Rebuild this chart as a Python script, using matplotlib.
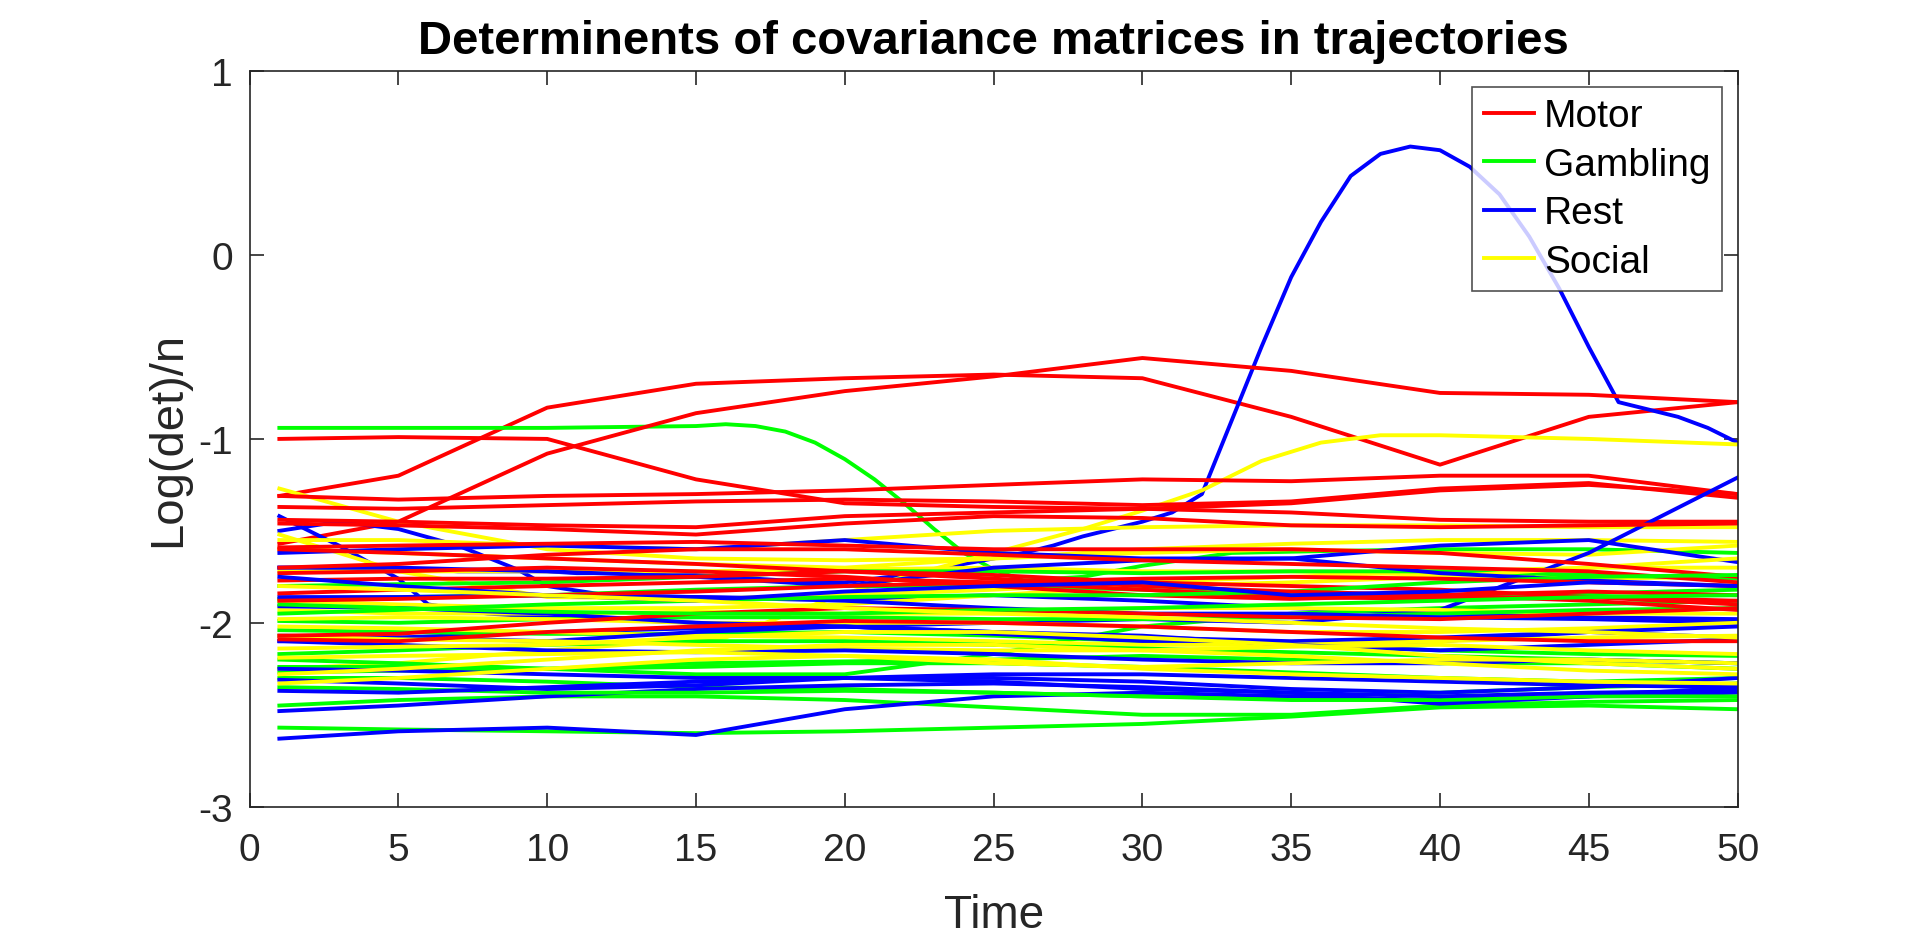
import numpy as np
import matplotlib
matplotlib.use("Agg")
import matplotlib.pyplot as plt

# ---------------------------------------------------------------------------
# data
# ---------------------------------------------------------------------------
time_grid = [1, 5, 10, 15, 20, 25, 30, 35, 40, 45, 50]

motor = [
    [-1.31, -1.20, -0.83, -0.70, -0.67, -0.65, -0.67, -0.88, -1.14, -0.88, -0.80],
    [-1.57, -1.45, -1.08, -0.86, -0.74, -0.66, -0.56, -0.63, -0.75, -0.76, -0.80],
    [-1.00, -0.99, -1.00, -1.22, -1.35, -1.37, -1.38, -1.35, -1.28, -1.25, -1.30],
    [-1.31, -1.33, -1.31, -1.30, -1.28, -1.25, -1.22, -1.23, -1.20, -1.20, -1.30],
    [-1.37, -1.38, -1.36, -1.34, -1.33, -1.34, -1.36, -1.34, -1.27, -1.24, -1.32],
    [-1.44, -1.45, -1.47, -1.48, -1.42, -1.40, -1.38, -1.40, -1.44, -1.45, -1.45],
    [-1.46, -1.47, -1.49, -1.52, -1.46, -1.42, -1.43, -1.47, -1.48, -1.47, -1.46],
    [-1.59, -1.58, -1.57, -1.56, -1.58, -1.60, -1.60, -1.60, -1.62, -1.68, -1.75],
    [-1.70, -1.68, -1.63, -1.60, -1.60, -1.63, -1.66, -1.68, -1.70, -1.72, -1.78],
    [-1.73, -1.72, -1.70, -1.72, -1.75, -1.80, -1.85, -1.87, -1.85, -1.83, -1.85],
    [-1.77, -1.76, -1.76, -1.75, -1.72, -1.74, -1.78, -1.80, -1.82, -1.86, -1.88],
    [-1.84, -1.82, -1.80, -1.78, -1.76, -1.78, -1.82, -1.86, -1.87, -1.86, -1.90],
    [-2.07, -2.06, -2.00, -1.95, -1.92, -1.93, -1.95, -1.97, -1.98, -1.95, -1.92],
    [-2.09, -2.10, -2.05, -2.02, -1.99, -2.00, -2.02, -2.05, -2.08, -2.10, -2.10],
    [-1.60, -1.62, -1.65, -1.68, -1.72, -1.76, -1.80, -1.83, -1.85, -1.88, -1.93],
    [-1.88, -1.87, -1.85, -1.83, -1.80, -1.78, -1.76, -1.75, -1.76, -1.78, -1.80],
]

gambling = [
    [-2.57, -2.58, -2.59, -2.60, -2.59, -2.57, -2.55, -2.51, -2.46, -2.45, -2.47],
    [-2.45, -2.42, -2.40, -2.40, -2.42, -2.46, -2.50, -2.50, -2.45, -2.43, -2.42],
    [-2.30, -2.30, -2.32, -2.35, -2.36, -2.38, -2.40, -2.40, -2.38, -2.35, -2.33],
    [-2.27, -2.26, -2.25, -2.24, -2.22, -2.22, -2.24, -2.27, -2.30, -2.32, -2.30],
    [-2.20, -2.22, -2.25, -2.28, -2.28, -2.17, -2.02, -1.95, -1.92, -1.90, -1.88],
    [-1.80, -1.79, -1.78, -1.75, -1.72, -1.72, -1.73, -1.72, -1.72, -1.74, -1.76],
    [-1.87, -1.86, -1.85, -1.82, -1.80, -1.80, -1.82, -1.85, -1.85, -1.84, -1.82],
    [-1.99, -2.00, -1.98, -1.97, -1.97, -1.98, -1.98, -1.97, -1.95, -1.93, -1.92],
    [-2.04, -2.05, -2.06, -2.06, -2.05, -2.07, -2.10, -2.12, -2.15, -2.17, -2.18],
    [-2.17, -2.15, -2.12, -2.10, -2.10, -2.12, -2.14, -2.16, -2.18, -2.20, -2.22],
    [-2.24, -2.24, -2.25, -2.22, -2.21, -2.20, -2.18, -2.20, -2.22, -2.22, -2.25],
    [-1.95, -1.93, -1.90, -1.88, -1.86, -1.85, -1.85, -1.83, -1.78, -1.75, -1.74],
    [-2.35, -2.36, -2.38, -2.38, -2.37, -2.38, -2.40, -2.42, -2.42, -2.40, -2.40],
    [-1.90, -1.92, -1.94, -1.95, -1.95, -1.93, -1.92, -1.90, -1.88, -1.86, -1.85],
]

rest = [
    [-2.63, -2.59, -2.57, -2.61, -2.47, -2.40, -2.38, -2.40, -2.42, -2.40, -2.38],
    [-2.48, -2.45, -2.40, -2.36, -2.34, -2.33, -2.35, -2.38, -2.44, -2.40, -2.35],
    [-2.10, -2.08, -2.05, -2.03, -2.02, -2.00, -1.98, -2.00, -1.93, -1.62, -1.21],
    [-1.62, -1.60, -1.58, -1.60, -1.55, -1.62, -1.65, -1.65, -1.58, -1.55, -1.67],
    [-1.70, -1.70, -1.72, -1.75, -1.80, -1.70, -1.66, -1.65, -1.73, -1.77, -1.80],
    [-1.86, -1.86, -1.85, -1.86, -1.88, -1.92, -1.95, -1.95, -1.97, -1.98, -2.00],
    [-1.91, -1.92, -1.95, -2.00, -2.02, -2.06, -2.10, -2.12, -2.10, -2.05, -2.02],
    [-2.07, -2.08, -2.10, -2.05, -2.02, -2.05, -2.07, -2.12, -2.15, -2.12, -2.09],
    [-2.10, -2.12, -2.15, -2.16, -2.15, -2.17, -2.20, -2.22, -2.22, -2.20, -2.22],
    [-2.25, -2.26, -2.28, -2.30, -2.30, -2.30, -2.32, -2.36, -2.38, -2.35, -2.30],
    [-2.31, -2.33, -2.36, -2.34, -2.30, -2.28, -2.28, -2.30, -2.32, -2.34, -2.35],
    [-2.37, -2.38, -2.35, -2.32, -2.30, -2.32, -2.36, -2.38, -2.40, -2.38, -2.37],
    [-1.75, -1.80, -1.85, -1.88, -1.83, -1.80, -1.78, -1.85, -1.83, -1.78, -1.80],
]

social = [
    [-1.27, -1.45, -1.60, -1.65, -1.66, -1.65, -1.62, -1.60, -1.62, -1.63, -1.58],
    [-1.52, -1.72, -1.86, -1.87, -1.85, -1.82, -1.78, -1.75, -1.72, -1.70, -1.70],
    [-1.55, -1.55, -1.58, -1.60, -1.55, -1.50, -1.48, -1.47, -1.47, -1.48, -1.48],
    [-1.60, -1.62, -1.65, -1.68, -1.70, -1.65, -1.60, -1.57, -1.55, -1.55, -1.56],
    [-1.72, -1.72, -1.72, -1.72, -1.71, -1.70, -1.72, -1.72, -1.74, -1.76, -1.75],
    [-1.88, -1.90, -1.92, -1.92, -1.90, -1.85, -1.80, -1.78, -1.75, -1.70, -1.65],
    [-1.93, -1.95, -1.95, -1.94, -1.95, -1.95, -1.92, -1.92, -1.93, -1.95, -1.95],
    [-1.98, -1.97, -1.98, -2.00, -2.00, -2.00, -2.02, -2.05, -2.05, -2.03, -2.00],
    [-2.02, -2.03, -2.05, -2.07, -2.08, -2.10, -2.12, -2.12, -2.10, -2.08, -2.07],
    [-2.07, -2.09, -2.10, -2.12, -2.14, -2.15, -2.15, -2.13, -2.12, -2.15, -2.17],
    [-2.14, -2.13, -2.12, -2.08, -2.05, -2.05, -2.08, -2.12, -2.18, -2.22, -2.25],
    [-2.19, -2.18, -2.17, -2.16, -2.18, -2.22, -2.24, -2.22, -2.20, -2.20, -2.22],
    [-2.28, -2.25, -2.20, -2.15, -2.12, -2.12, -2.15, -2.18, -2.22, -2.26, -2.28],
    [-2.33, -2.30, -2.25, -2.20, -2.18, -2.20, -2.25, -2.28, -2.30, -2.32, -2.33],
    [-1.80, -1.82, -1.85, -1.88, -1.92, -1.95, -1.97, -2.00, -2.03, -2.05, -2.08],
]

# a few trajectories that need more samples than the coarse grid
gambling_drop_t = [1, 5, 10, 15, 16, 17, 18, 19, 20, 21, 22, 23, 24, 25, 26, 28, 30, 33, 36, 40, 45, 50]
gambling_drop = [-0.94, -0.94, -0.94, -0.93, -0.92, -0.93, -0.96, -1.02, -1.11, -1.22, -1.35,
                 -1.49, -1.62, -1.71, -1.77, -1.75, -1.69, -1.62, -1.61, -1.60, -1.60, -1.62]

rest_spike_t = list(range(1, 51))
rest_spike = [-1.70, -1.70, -1.71, -1.71, -1.71, -1.71, -1.72, -1.72, -1.72, -1.72,
              -1.73, -1.73, -1.73, -1.74, -1.74, -1.75, -1.76, -1.77, -1.78, -1.78,
              -1.76, -1.74, -1.71, -1.68, -1.65, -1.62, -1.58, -1.53, -1.49, -1.45,
              -1.40, -1.30, -0.90, -0.50, -0.12, 0.18, 0.43, 0.55, 0.59, 0.57,
              0.48, 0.33, 0.10, -0.18, -0.50, -0.80, -0.84, -0.88, -0.94, -1.02]

rest_fall_t = [1, 3, 5, 6, 8, 10, 15, 20, 25, 30, 35, 40, 45, 50]
rest_fall = [-1.42, -1.58, -1.76, -1.90, -1.95, -1.97, -2.00, -2.02, -2.05, -2.08, -2.10, -2.08, -2.05, -2.08]

rest_bump_t = [1, 3, 5, 7, 9, 10, 12, 15, 20, 25, 30, 35, 40, 45, 50]
rest_bump = [-1.50, -1.45, -1.49, -1.58, -1.71, -1.80, -1.85, -1.86, -1.87, -1.85, -1.88, -1.92, -1.95, -1.97, -1.98]

social_rise_t = [1, 5, 10, 16, 20, 22, 25, 28, 30, 32, 34, 36, 38, 40, 45, 50]
social_rise = [-2.25, -2.22, -2.15, -2.08, -1.84, -1.75, -1.62, -1.49, -1.39, -1.28, -1.12,
               -1.02, -0.98, -0.98, -1.00, -1.03]

labels = ["Motor", "Gambling", "Rest", "Social"]
colors = ["#ff0000", "#00ff00", "#0000ff", "#ffff00"]

# ---------------------------------------------------------------------------
# plot
# ---------------------------------------------------------------------------
plt.rcParams["font.family"] = ["Liberation Sans", "DejaVu Sans"]
plt.rcParams["axes.unicode_minus"] = False

fig = plt.figure(figsize=(19.2, 9.37), dpi=100)
ax = fig.add_axes([0.13, 0.138, 0.775, 0.785])

groups = [
    (motor, [], []),
    (gambling, [gambling_drop_t], [gambling_drop]),
    (rest, [rest_spike_t, rest_fall_t, rest_bump_t], [rest_spike, rest_fall, rest_bump]),
    (social, [social_rise_t], [social_rise]),
]

# one trajectory of each task per subject, drawn interleaved like the original
n_max = max(len(g[0]) + len(g[1]) for g in groups)
lw = 2.8
handles = [None] * 4
for i in range(n_max):
    for k, (series, extra_t, extra_v) in enumerate(groups):
        if i < len(extra_t):
            t, v = extra_t[i], extra_v[i]
        elif i - len(extra_t) < len(series):
            t, v = time_grid, series[i - len(extra_t)]
        else:
            continue
        line, = ax.plot(t, v, color=colors[k], lw=lw)
        if handles[k] is None:
            handles[k] = line

ax.set_xlim(0, 50)
ax.set_ylim(-3, 1)
ax.set_xticks(np.arange(0, 51, 5))
ax.set_yticks([-3, -2, -1, 0, 1])

axis_col = "#262626"
for s in ax.spines.values():
    s.set_color(axis_col)
    s.set_linewidth(1.2)
ax.tick_params(direction="in", top=True, right=True, length=10, width=1.2,
               colors=axis_col, labelsize=28)
ax.tick_params(axis="x", pad=18)
ax.tick_params(axis="y", pad=12)

ax.set_xlabel("Time", fontsize=33, color=axis_col, labelpad=18)
ax.set_ylabel("Log(det)/n", fontsize=34, color=axis_col, labelpad=6)
ax.set_title("Determinents of covariance matrices in trajectories",
             fontsize=34, fontweight="bold", color="black", pad=13)

leg = ax.legend(handles, labels, loc="upper right", fontsize=28,
                frameon=True, fancybox=False, edgecolor=axis_col,
                borderaxespad=0.4, handlelength=1.3, handletextpad=0.25,
                labelspacing=0.32, borderpad=0.3)
leg.get_frame().set_linewidth(1.2)

fig.savefig("out.png", dpi=100, facecolor="white")
